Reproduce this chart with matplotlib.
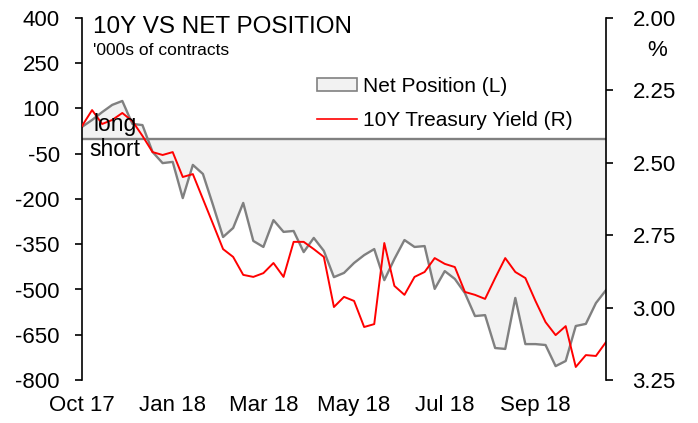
import matplotlib
matplotlib.use("Agg")
from matplotlib import pyplot as plt
from matplotlib.patches import Patch
from matplotlib.lines import Line2D
import numpy as np

plt.rcParams['font.family'] = ['Liberation Sans', 'DejaVu Sans']

# weekly observations, Oct 2017 -> Oct 2018
net_position = [39, 62, 88, 112, 125, 49, 45, -44, -81, -77,
                -197, -87, -117, -220, -326, -296, -213, -339, -359, -270,
                -309, -306, -376, -329, -372, -459, -445, -412, -386, -366,
                -469, -399, -336, -359, -356, -498, -439, -465, -512, -588,
                -585, -694, -697, -528, -681, -681, -684, -754, -737, -621,
                -614, -545, -502]
yield_10y = [2.373, 2.318, 2.366, 2.352, 2.328, 2.356, 2.407, 2.463, 2.473, 2.463,
             2.549, 2.539, 2.625, 2.711, 2.798, 2.825, 2.887, 2.894, 2.881, 2.846,
             2.894, 2.773, 2.773, 2.798, 2.825, 2.998, 2.963, 2.977, 3.067, 3.057,
             2.777, 2.925, 2.956, 2.894, 2.877, 2.829, 2.849, 2.860, 2.946, 2.956,
             2.970, 2.898, 2.829, 2.877, 2.898, 2.977, 3.050, 3.095, 3.064, 3.205,
             3.164, 3.167, 3.119]
xlabels = ['Oct 17', 'Jan 18', 'Mar 18', 'May 18', 'Jul 18', 'Sep 18']
xlabel_idx = [0, 9, 18, 27, 36, 45]
left_ticks = [400, 250, 100, -50, -200, -350, -500, -650, -800]
right_ticks = [2.00, 2.25, 2.50, 2.75, 3.00, 3.25]

x = np.arange(len(net_position))

fig = plt.figure(figsize=(6.98, 4.23), dpi=100)
ax = fig.add_axes([82/698, 1-380/423, (606-82)/698, (380-18)/423])

ax.fill_between(x, net_position, 0, color='#F2F2F2', lw=0)
ax.plot(x, net_position, color='#808080', lw=1.7)
ax.axhline(0, color='#808080', lw=1.7)
ax.set_xlim(0, len(x)-1)
ax.set_ylim(-800, 400)
ax.set_yticks(left_ticks)
ax.set_yticklabels([str(t) for t in left_ticks], fontsize=16)
ax.set_xticks(xlabel_idx)
ax.set_xticklabels(xlabels, fontsize=16)
ax.tick_params(axis='x', length=0, pad=11)
ax.tick_params(axis='y', direction='out', length=5, width=1.2, pad=11)
for s in ['top', 'bottom', 'right']:
    ax.spines[s].set_visible(False)
ax.spines['left'].set_linewidth(1.2)

ax2 = ax.twinx()
ax2.plot(x, yield_10y, color='#FF0000', lw=1.4)
ax2.set_ylim(3.25, 2.00)
ax2.set_yticks(right_ticks)
ax2.set_yticklabels(['%.2f' % t for t in right_ticks], fontsize=16)
ax2.tick_params(axis='y', direction='out', length=5, width=1.2, pad=14)
for s in ['top', 'bottom', 'left']:
    ax2.spines[s].set_visible(False)
ax2.spines['right'].set_linewidth(1.2)

fig.text(93/698, 1-33/423, '10Y VS NET POSITION', fontsize=17.5, va='baseline')
fig.text(93/698, 1-55/423, "'000s of contracts", fontsize=12.5, va='baseline')
fig.text(657/698, 1-50/423, '%', fontsize=16, ha='center', va='center')
fig.text(93/698, 1-124/423, 'long', fontsize=16.5, va='center')
fig.text(89/698, 1-149/423, 'short', fontsize=16.5, va='center')

handles = [Patch(facecolor='#F2F2F2', edgecolor='#808080', lw=1.2),
           Line2D([], [], color='#FF0000', lw=1.2)]
fig.legend(handles, ['Net Position (L)', '10Y Treasury Yield (R)'],
           loc='upper left', bbox_to_anchor=(317/698, 1-77/423),
           frameon=False, fontsize=15, borderpad=0, borderaxespad=0,
           handlelength=1.9, handleheight=0.55, handletextpad=0.3,
           labelspacing=0.72)

fig.savefig('out.png', dpi=100)
